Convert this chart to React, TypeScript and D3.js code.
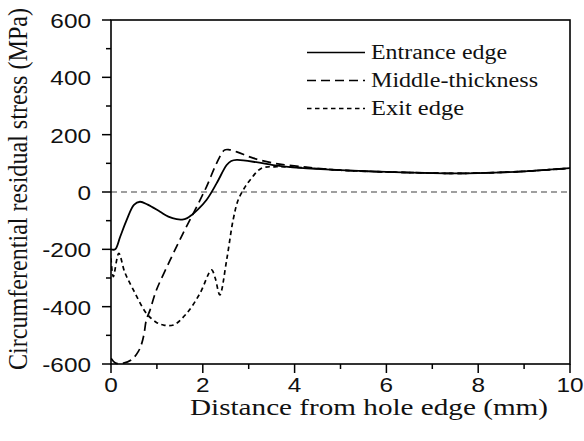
import React from "react";
import * as d3 from "d3";

// Distance from the hole edge (mm) and circumferential residual stress (MPa)
const entranceX = [0, 0.09, 0.2, 0.34, 0.5, 0.63, 0.8, 1.07, 1.25, 1.43, 1.55, 1.66, 1.76, 1.9, 2.08, 2.3, 2.52, 2.62, 2.74, 3.2, 3.53, 4.12, 5, 6, 7, 7.5, 8, 9, 10];
const entranceY = [-200, -200, -156, -98, -45, -34, -44, -69, -86, -95, -96, -91, -80, -60, -28, 30, 94, 108, 112, 103, 94, 84, 76, 70, 66, 65, 66, 72, 83];

const middleX = [0, 0.1, 0.27, 0.45, 0.6, 0.67, 0.72, 0.77, 0.85, 0.99, 1.29, 1.57, 1.83, 2.08, 2.3, 2.47, 2.56, 2.74, 3.1, 3.53, 3.83, 4.3, 5, 6, 7, 7.5, 8, 9, 10];
const middleY = [-580, -597, -597, -585, -555, -528, -495, -446, -412, -342, -237, -144, -63, 18, 100, 146, 148, 140, 118, 101, 94, 86, 76, 70, 66, 65, 66, 72, 83];

const exitX = [0, 0.05, 0.17, 0.3, 0.49, 0.77, 0.99, 1.14, 1.36, 1.65, 1.94, 2.19, 2.27, 2.37, 2.52, 2.66, 2.77, 2.9, 3.03, 3.28, 3.61, 4.2, 5, 6, 7, 7.5, 8, 9, 10];
const exitY = [-231, -295, -214, -280, -342, -423, -455, -464, -464, -423, -353, -272, -300, -359, -237, -98, -28, 12, 42, 83, 88, 85, 76, 70, 66, 65, 66, 72, 83];

const xTicks = [0, 2, 4, 6, 8, 10];
const xMinor = [1, 3, 5, 7, 9];
const yTicks = [-600, -400, -200, 0, 200, 400, 600];
const yMinor = [-500, -300, -100, 100, 300, 500];

const seriesNames = ["Entrance edge", "Middle-thickness", "Exit edge"];
const xTitle = "Distance from hole edge (mm)";
const yTitle = "Circumferential residual stress (MPa)";

const W = 584;
const H = 441;
const left = 111;
const right = 570;
const top = 20;
const bottom = 364;

const dashes = ["", "9,5", "4.5,3.5"];
const legendTextLen = [136, 167, 93];

const numFont = "Liberation Sans";
const serif = "Liberation Serif";

export default function App() {
  const x = d3.scaleLinear().domain([0, 10]).range([left, right]);
  const y = d3.scaleLinear().domain([-600, 600]).range([bottom, top]);

  const makeLine = (xs: number[], ys: number[]) =>
    d3
      .line<number>()
      .x((_, i) => x(xs[i]))
      .y((_, i) => y(ys[i]))
      .curve(d3.curveCatmullRom.alpha(0.5))(ys) as string;

  const series = [
    makeLine(entranceX, entranceY),
    makeLine(middleX, middleY),
    makeLine(exitX, exitY),
  ];

  return (
    <svg
      width={W}
      height={H}
      viewBox={`0 0 ${W} ${H}`}
      style={{ position: "absolute", left: 0, top: 0, background: "#fff" }}
    >
      <defs>
        <clipPath id="plotClip">
          <rect x={left} y={top - 2} width={right - left} height={bottom - top + 4} />
        </clipPath>
      </defs>

      {/* zero reference line */}
      <line
        x1={x(0)}
        x2={x(10)}
        y1={y(0)}
        y2={y(0)}
        stroke="#808080"
        strokeWidth={1.6}
        strokeDasharray="6,4"
      />

      {/* data curves */}
      <g clipPath="url(#plotClip)" fill="none" stroke="#000">
        {series.map((d, i) => (
          <path
            key={i}
            d={d}
            strokeWidth={i === 0 ? 1.8 : 1.7}
            strokeDasharray={dashes[i] || undefined}
          />
        ))}
      </g>

      {/* frame */}
      <rect
        x={left}
        y={top}
        width={right - left}
        height={bottom - top}
        fill="none"
        stroke="#000"
        strokeWidth={1.6}
      />

      {/* y ticks */}
      {yTicks.map((t) => (
        <g key={`yt${t}`}>
          <line x1={left - 9} x2={left} y1={y(t)} y2={y(t)} stroke="#000" strokeWidth={1.5} />
          <text
            transform={`translate(${left - 20},${y(t) + 8}) scale(1.16,1)`}
            textAnchor="end"
            fontFamily={numFont}
            fontSize={21}
            fill="#111"
          >
            {t}
          </text>
        </g>
      ))}
      {yMinor.map((t) => (
        <line key={`ym${t}`} x1={left - 5} x2={left} y1={y(t)} y2={y(t)} stroke="#000" strokeWidth={1.5} />
      ))}

      {/* x ticks */}
      {xTicks.map((t) => (
        <g key={`xt${t}`}>
          <line x1={x(t)} x2={x(t)} y1={bottom} y2={bottom + 9} stroke="#000" strokeWidth={1.5} />
          <text
            transform={`translate(${x(t)},${bottom + 28}) scale(1.16,1)`}
            textAnchor="middle"
            fontFamily={numFont}
            fontSize={21}
            fill="#111"
          >
            {t}
          </text>
        </g>
      ))}
      {xMinor.map((t) => (
        <line key={`xm${t}`} x1={x(t)} x2={x(t)} y1={bottom} y2={bottom + 5} stroke="#000" strokeWidth={1.5} />
      ))}

      {/* axis titles */}
      <text
        x={369}
        y={415}
        textAnchor="middle"
        fontFamily={serif}
        fontSize={23}
        textLength={358}
        lengthAdjust="spacingAndGlyphs"
        fill="#111"
      >
        {xTitle}
      </text>
      <text
        transform={`translate(27,189) scale(1.19,1) rotate(-90)`}
        textAnchor="middle"
        fontFamily={serif}
        fontSize={23}
        textLength={362}
        lengthAdjust="spacingAndGlyphs"
        fill="#111"
      >
        {yTitle}
      </text>

      {/* legend */}
      {seriesNames.map((name, i) => {
        const ly = 52.5 + i * 28;
        return (
          <g key={name}>
            <line
              x1={307}
              x2={365}
              y1={ly}
              y2={ly}
              stroke="#000"
              strokeWidth={1.7}
              strokeDasharray={dashes[i] || undefined}
            />
            <text
              x={371}
              y={ly + 6.5}
              fontFamily={serif}
              fontSize={20}
              textLength={legendTextLen[i]}
              lengthAdjust="spacingAndGlyphs"
              fill="#111"
            >
              {name}
            </text>
          </g>
        );
      })}
    </svg>
  );
}
